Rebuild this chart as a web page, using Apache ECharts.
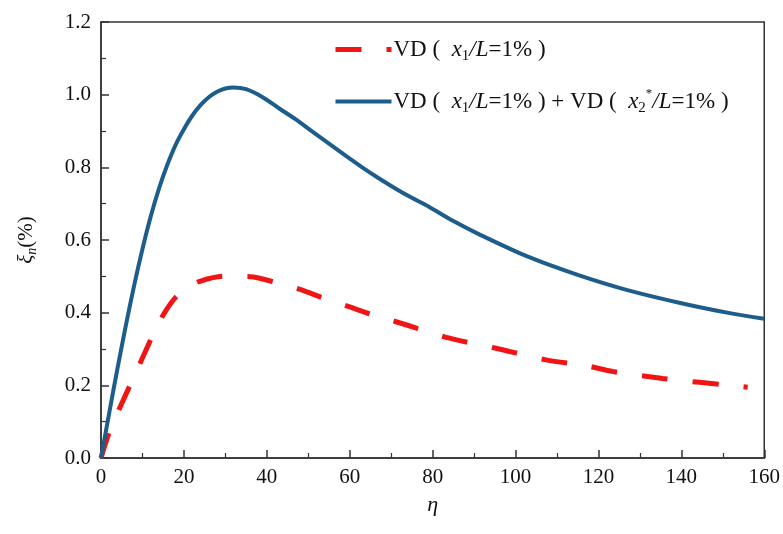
<!DOCTYPE html>
<html>
<head>
<meta charset="utf-8">
<script src="https://cdn.jsdelivr.net/npm/echarts@6/dist/echarts.min.js"></script>
<style>html,body{margin:0;padding:0;background:#fff}#c{width:783px;height:534px}</style>
</head>
<body>
<div id="c"></div>
<script>
// eta values and xi_n (%)
const vdSingle = [[0,0],[2.2,0.077],[5.4,0.16],[9.4,0.26],[13.4,0.36],[15.5,0.403],[18,0.442],[21,0.47],[24,0.487],[29.6,0.50],[36,0.499],[41.6,0.485],[48,0.464],[53.7,0.44],[60,0.416],[65.5,0.394],[71.2,0.375],[83.3,0.332],[95.3,0.302],[107.4,0.27],[117,0.254],[123.5,0.238],[135.5,0.219],[156,0.195]];
const vdSum = [[0,0],[2,0.125],[4,0.248],[6,0.365],[8,0.475],[10,0.575],[12,0.665],[14,0.742],[16,0.807],[18,0.862],[20,0.905],[22,0.942],[24,0.971],[26,0.993],[28,1.008],[30,1.017],[32,1.02],[35,1.015],[39,0.993],[43,0.962],[47,0.932],[51,0.898],[55,0.865],[59,0.832],[63,0.80],[67,0.77],[71,0.742],[75,0.716],[79,0.692],[85,0.652],[91,0.617],[103,0.554],[115,0.504],[127,0.462],[140,0.426],[152,0.398],[160,0.383]];
const seriesNames = ['VD1', 'VD2'];
const xTicks = {min: 0, max: 160, interval: 20};
const yTicks = {min: 0, max: 1.2, interval: 0.2};

const FONT = '"Liberation Serif","DejaVu Serif",serif';
const rich = {
  t: {fontFamily: FONT, fontSize: 21, color: '#111'},
  i: {fontFamily: FONT, fontSize: 21, fontStyle: 'italic', color: '#111'},
  sub: {fontFamily: FONT, fontSize: 14, fontStyle: 'italic', color: '#111', verticalAlign: 'bottom', padding: [12, 0, 0, 0]}
};
const lrich = {
  t: {fontFamily: FONT, fontSize: 23, color: '#111'},
  i: {fontFamily: FONT, fontSize: 23, fontStyle: 'italic', color: '#111'},
  sub: {fontFamily: FONT, fontSize: 15, color: '#111', verticalAlign: 'bottom', padding: [13, 0, 0, 0]},
  sup: {fontFamily: FONT, fontSize: 13, color: '#111', verticalAlign: 'top', padding: [0, 0, 13, 0]}
};
const legendText = {
  VD1: '{t|VD (  }{i|x}{sub|1}{i|/L}{t|=1% )}',
  VD2: '{t|VD (  }{i|x}{sub|1}{i|/L}{t|=1% ) + VD (  }{i|x}{sub|2}{sup|*}{i|/L}{t|=1% )}'
};
const chart = echarts.init(document.getElementById('c'));
chart.setOption({
  animation: false,
  backgroundColor: '#fff',
  grid: {left: 101, right: 18, top: 22, bottom: 76, show: true, borderColor: '#333', borderWidth: 1.5, backgroundColor: 'transparent'},
  legend: {
    orient: 'vertical', left: 328, top: 33, itemGap: 24, itemWidth: 56, itemHeight: 14,
    data: seriesNames,
    formatter: n => legendText[n],
    itemStyle: {opacity: 0},
    lineStyle: {width: 'inherit'},
    textStyle: {rich: lrich, padding: [0, 0, 0, -3]}
  },
  xAxis: {
    type: 'value', min: xTicks.min, max: xTicks.max, interval: xTicks.interval,
    name: 'η', nameLocation: 'middle', nameGap: 36,
    nameTextStyle: {fontFamily: FONT, fontSize: 22, fontStyle: 'italic', color: '#111'},
    axisLine: {show: true, lineStyle: {color: '#333', width: 1.5}},
    axisTick: {show: true, inside: true, length: 8, lineStyle: {color: '#333', width: 1.5}},
    minorTick: {show: true, splitNumber: 2, length: 5, lineStyle: {color: '#333', width: 1.2}},
    splitLine: {show: false},
    axisLabel: {fontFamily: FONT, fontSize: 21, color: '#111', margin: 9}
  },
  yAxis: {
    type: 'value', min: yTicks.min, max: yTicks.max, interval: yTicks.interval,
    name: '{i|ξ}{sub|n}{t|(%)}', nameLocation: 'middle', nameGap: 62, nameRotate: 90,
    nameTextStyle: {rich: rich},
    axisLine: {show: true, lineStyle: {color: '#333', width: 1.5}},
    axisTick: {show: true, inside: true, length: 8, lineStyle: {color: '#333', width: 1.5}},
    minorTick: {show: true, splitNumber: 2, length: 5, lineStyle: {color: '#333', width: 1.2}},
    splitLine: {show: false},
    axisLabel: {fontFamily: FONT, fontSize: 21, color: '#111', margin: 10, formatter: v => v.toFixed(1)}
  },
  series: [
    {name: 'VD1', type: 'line', data: vdSingle, smooth: 0.3, symbol: 'none', color: '#f01414',
     lineStyle: {width: 5, type: [26, 25], color: '#f01414'}},
    {name: 'VD2', type: 'line', data: vdSum, smooth: 0.3, symbol: 'none', color: '#1c5d8c',
     lineStyle: {width: 4, type: 'solid', color: '#1c5d8c'}}
  ]
});
</script>
</body>
</html>
